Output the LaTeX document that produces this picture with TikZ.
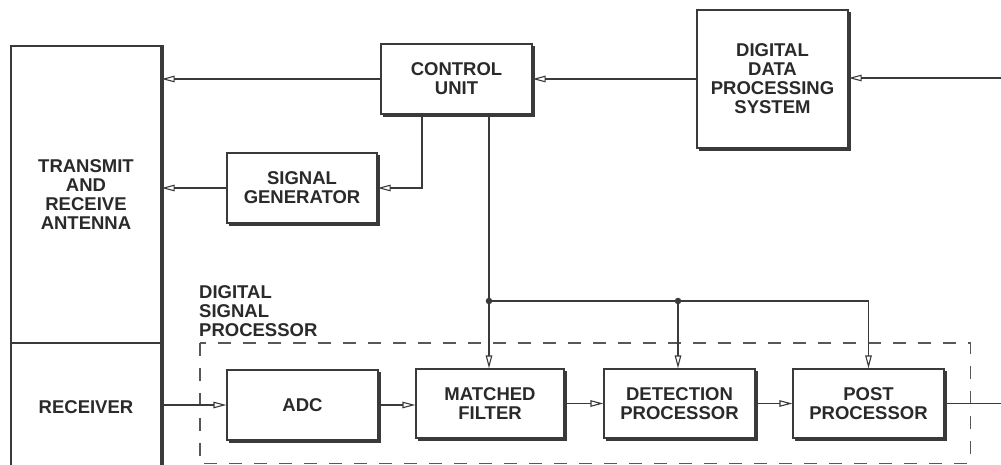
\documentclass[tikz,border=0pt]{standalone}
\usepackage{fontspec}
\setmainfont{Liberation Sans}
\usetikzlibrary{arrows.meta,calc}
\definecolor{ink}{HTML}{3A3A3A}
\definecolor{txt}{HTML}{2A2A2A}
\tikzset{
  blk/.style={draw=ink, line width=1.2pt, rectangle, inner sep=0pt, align=center,
    text=txt, font=\bfseries\fontsize{18.5}{19}\selectfont},
  conn/.style={draw=ink, line width=1.1pt},
  arr/.style={conn, -{Triangle[open,length=13pt,width=6.5pt,line width=1.1pt]}},
  shd/.style={draw=ink, line width=2.8pt},
  dspbox/.style={draw=ink!85, line width=1.4pt, dash pattern=on 13pt off 12pt},
  jdot/.style={circle, fill=ink, inner sep=0pt, minimum size=6.5pt},
}
\newcommand{\mkblk}[6]{%
  \node[blk, minimum width={(#4-#2)*1pt}, minimum height={(#5-#3)*1pt}]
    (#1) at ({(#2+#4)/2},{(#3+#5)/2}) {#6};
  \draw[shd] ([shift={(1.3,3)}]#1.north east) -- ([shift={(1.3,1.3)}]#1.south east)
    -- ([shift={(3,1.3)}]#1.south west);
}
\begin{document}
\begin{tikzpicture}[x=1pt,y=-1pt]
\useasboundingbox[fill=white] (0,0) rectangle (1001,465);
\clip (0,0) rectangle (1001,465);

% antenna / receiver column
\node[blk, minimum width=150pt, minimum height=297pt] (ant) at (86,194.5)
  {TRANSMIT\\AND\\RECEIVE\\ANTENNA};
\node[blk, minimum width=150pt, minimum height=128pt] (rcv) at (86,407) {RECEIVER};
\draw[shd] ([shift={(1.3,0)}]ant.north east) -- ([shift={(1.3,0)}]rcv.south east);

% upper blocks
\mkblk{ctrl}{381}{44}{532}{114}{CONTROL\\UNIT}
\mkblk{ddps}{697}{10}{848}{148}{DIGITAL\\DATA\\PROCESSING\\SYSTEM}
\mkblk{sig}{227}{153}{377}{223}{SIGNAL\\GENERATOR}

% DSP dashed box and label
\node[draw=none, inner sep=0pt, minimum width=770pt, minimum height=120pt] (dsp) at (585,403) {};
\draw[dspbox] (dsp.north west) rectangle (dsp.south east);
\node[anchor=north west, inner sep=0pt, align=left, text=txt,
  font=\bfseries\fontsize{18.5}{19}\selectfont] (dsplbl) at (199,285)
  {DIGITAL\\SIGNAL\\PROCESSOR};

% lower blocks
\mkblk{adc}{227}{370}{378}{440}{ADC}
\mkblk{mf}{416}{369}{564}{438}{MATCHED\\FILTER}
\mkblk{det}{604}{369}{755}{438}{DETECTION\\PROCESSOR}
\mkblk{post}{793}{369}{944}{438}{POST\\PROCESSOR}

% external coordinates
\coordinate (extin) at (1001,78);
\coordinate (extout) at (1001,403.5);
\coordinate (j1) at (489,301);
\coordinate (j2) at (678,301);

% connectors
\draw[arr] (extin) -- (extin -| ddps.east);
\draw[arr] (ddps.west) -- (ddps.west -| ctrl.east);
\draw[arr] (ctrl.west) -- (ctrl.west -| ant.east);
\draw[arr] (ctrl.south -| 422,0) |- (sig.east);
\draw[arr] (sig.west) -- (sig.west -| ant.east);
\draw[arr] (ctrl.south -| j1) -- (j1 |- mf.north);
\draw[conn] (j1) -- (j1 -| post.north);
\draw[arr] (j1 -| post.north) -- (post.north);
\draw[arr] (j2) -- (j2 |- det.north);
\node[jdot] at (j1) {};
\node[jdot] at (j2) {};

\draw[arr] (adc.west -| rcv.east) -- (adc.west);
\draw[arr] (adc.east) -- (adc.east -| mf.west);
\draw[arr] (mf.east) -- (mf.east -| det.west);
\draw[arr] (det.east) -- (det.east -| post.west);
\draw[conn] (post.east) -- (extout);
\end{tikzpicture}
\end{document}
